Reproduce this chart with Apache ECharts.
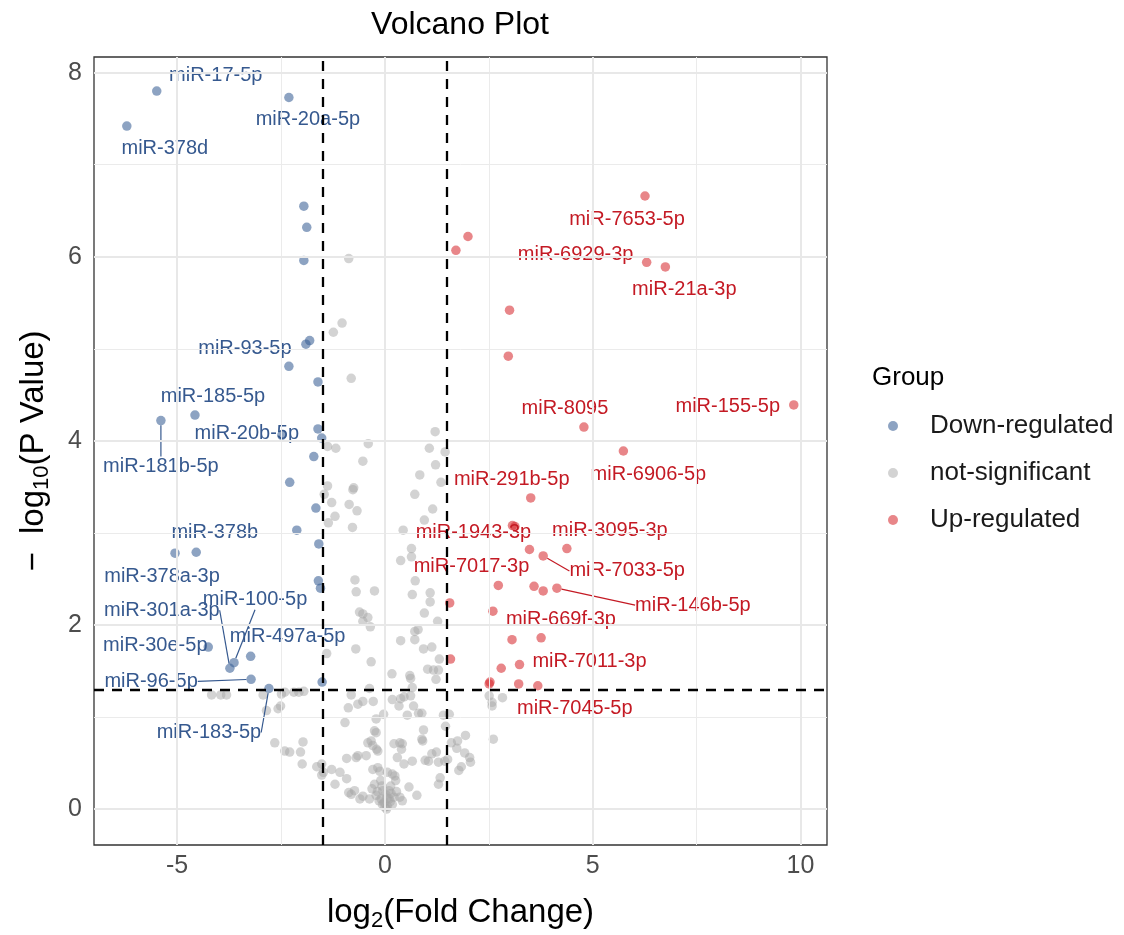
<!DOCTYPE html>
<html>
<head>
<meta charset="utf-8">
<title>Volcano Plot</title>
<script src="https://cdn.jsdelivr.net/npm/echarts@6/dist/echarts.min.js"></script>
<style>
  html, body { margin: 0; background: #fff; }
  #chart { width: 1124px; height: 935px; }
</style>
</head>
<body>
<div id="chart"></div>
<script>
// categories / ticks
const groups = ['Down-regulated', 'not-significant', 'Up-regulated'];
const xTicks = [-5, 0, 5, 10];
const xMinorTicks = [-2.5, 2.5, 7.5];
const yTicks = [0, 2, 4, 6, 8];
const yMinorTicks = [1, 3, 5, 7];
const fcCut = [-1.5, 1.5];
const pCut = 1.30103; // -log10(0.05)

// [log2FC, -log10(p), label]
const downPoints = [
  [-5.49, 7.80, 'miR-17-5p'], [-6.21, 7.42, 'miR-378d'], [-2.31, 7.73, 'miR-20a-5p'],
  [-1.95, 6.55, ''], [-1.88, 6.32, ''], [-1.95, 5.96, ''],
  [-1.90, 5.05, 'miR-93-5p'], [-1.81, 5.09, ''], [-2.31, 4.81, ''], [-1.61, 4.64, ''],
  [-4.57, 4.28, 'miR-185-5p'], [-5.39, 4.22, 'miR-181b-5p'], [-2.48, 4.06, 'miR-20b-5p'],
  [-1.61, 4.13, ''], [-1.52, 4.03, ''], [-1.71, 3.83, ''], [-2.29, 3.55, ''], [-1.66, 3.27, ''],
  [-2.12, 3.03, 'miR-378b'], [-1.59, 2.88, ''], [-5.05, 2.78, 'miR-378a-3p'], [-4.54, 2.79, ''],
  [-1.60, 2.48, ''], [-1.55, 2.40, ''],
  [-4.25, 1.76, 'miR-30e-5p'], [-3.73, 1.53, 'miR-301a-3p'], [-3.63, 1.59, 'miR-100-5p'],
  [-3.23, 1.66, 'miR-497a-5p'], [-3.22, 1.41, 'miR-96-5p'], [-2.79, 1.31, 'miR-183-5p'],
  [-1.51, 1.38, '']
];

const upPoints = [
  [1.71, 6.07, ''], [2.00, 6.22, ''],
  [6.26, 6.66, 'miR-7653-5p'], [6.30, 5.94, 'miR-6929-3p'], [6.75, 5.89, 'miR-21a-3p'],
  [3.00, 5.42, ''], [2.97, 4.92, ''],
  [4.79, 4.15, 'miR-8095'], [9.84, 4.39, 'miR-155-5p'], [5.74, 3.89, 'miR-6906-5p'],
  [3.51, 3.38, 'miR-291b-5p'], [3.07, 3.08, 'miR-1943-3p'], [3.13, 3.07, ''],
  [3.48, 2.82, 'miR-7017-3p'], [4.38, 2.83, 'miR-3095-3p'], [3.81, 2.75, 'miR-7033-5p'],
  [2.73, 2.43, ''], [3.59, 2.42, ''], [3.81, 2.37, ''], [4.14, 2.40, 'miR-146b-5p'],
  [1.56, 2.24, ''], [2.60, 2.15, 'miR-669f-3p'], [3.06, 1.84, ''], [3.76, 1.86, ''],
  [1.58, 1.63, ''], [2.80, 1.53, ''], [3.24, 1.57, 'miR-7011-3p'],
  [2.51, 1.36, ''], [2.53, 1.38, ''], [3.22, 1.36, ''], [3.68, 1.34, 'miR-7045-5p']
];

const nsPoints = [
  [-0.87,5.98],[-1.03,5.28],[-1.24,5.18],[-0.81,4.68],[1.21,4.10],[-0.40,3.97],[1.07,3.92],[-1.38,3.94],[-1.18,3.92],[1.45,3.88],
  [-0.53,3.78],[1.22,3.74],[0.84,3.63],[1.35,3.55],[-1.38,3.51],[-0.77,3.47],[-0.75,3.49],[0.72,3.42],[-1.46,3.42],[-1.28,3.33],
  [-0.86,3.31],[-0.67,3.24],[1.15,3.26],[-1.20,3.18],[0.95,3.14],[-1.36,3.11],[-0.78,3.06],[0.44,3.03],[0.64,2.83],[0.64,2.74],
  [0.38,2.70],[-0.72,2.49],[0.73,2.48],[-0.69,2.36],[-0.25,2.37],[0.66,2.33],[1.09,2.35],[1.09,2.25],[-0.61,2.14],[-0.53,2.12],
  [-0.41,2.08],[-0.53,2.04],[0.95,2.13],[1.27,2.04],[-0.35,1.98],[0.80,1.95],[0.72,1.93],[0.38,1.83],[0.72,1.84],[0.93,1.74],
  [1.13,1.76],[-0.70,1.74],[-1.40,1.69],[1.31,1.63],[-0.33,1.60],[1.03,1.52],[1.17,1.51],[1.29,1.51],[0.17,1.47],[0.60,1.45],
  [0.62,1.42],[1.23,1.41],[-0.37,1.31],[0.66,1.32],
  [-4.17,1.24],[-3.95,1.24],[-3.81,1.24],[-2.93,1.24],[-2.49,1.25],[-2.41,1.27],[-2.19,1.27],[-2.07,1.27],[-1.95,1.28],
  [-2.85,1.07],[-2.57,1.09],[-2.51,1.12],[-2.65,0.72],[-2.41,0.63],[-2.29,0.62],[-2.03,0.62],[-1.97,0.73],
  [-1.52,0.49],[-1.28,0.43],[-1.08,0.40],[-0.92,0.33],[-1.48,0.40],[-0.96,0.94],[-0.88,1.10],[-0.65,1.14],[-0.65,0.58],[-0.45,0.58],
  [-0.81,1.24],[-0.53,1.17],[-0.28,1.17],[0.18,1.19],[0.38,1.20],[0.46,1.22],[0.62,1.23],[0.34,1.12],[0.69,1.12],[0.54,1.02],
  [0.81,1.04],[0.89,1.04],[1.41,1.02],[-0.03,1.03],[-0.21,0.98],[-0.25,0.85],[-0.21,0.83],[0.93,0.86],[0.89,0.76],[0.91,0.74],
  [1.46,0.90],[1.94,0.80],[2.61,0.76],[-0.41,0.72],[-0.33,0.74],[-0.29,0.69],[-0.20,0.65],[-0.17,0.63],[0.22,0.71],[0.36,0.72],
  [0.42,0.71],[0.40,0.65],[1.60,0.72],[1.75,0.74],[1.73,0.66],[1.92,0.61],[-0.92,0.55],[-0.69,0.56],[0.30,0.56],[0.46,0.49],
  [0.66,0.52],[0.97,0.53],[1.05,0.52],[1.13,0.60],[1.29,0.51],[1.51,0.54],[2.04,0.56],[2.06,0.51],[1.84,0.46],[1.78,0.42],
  [-1.99,0.49],[-1.64,0.46],[-1.52,0.37],[-1.20,0.27],[-0.29,0.43],[-0.17,0.45],[-0.12,0.41],[0.06,0.40],[0.18,0.38],[0.24,0.36],
  [1.33,0.34],[1.29,0.27],[-0.25,0.27],[-0.31,0.22],[-0.07,0.25],[0.14,0.25],[0.10,0.20],[0.58,0.24],[0.77,0.15],[0.42,0.09],
  [0.36,0.13],[-0.73,0.20],[-0.81,0.16],[-0.53,0.14],[-0.37,0.11],[-0.21,0.15],[-0.09,0.11],[-0.02,0.07],[0.06,0.03],[0.18,0.05],
  [0.10,0.11],[2.51,1.23],[2.58,1.16],[2.58,1.12],[2.83,1.21],[1.55,1.03],[1.24,0.62],[1.44,0.52],[-0.60,0.11],[-0.87,0.18],
  [0.00,0.02],[0.04,0.00],[-0.06,0.05],[0.13,0.08],[-0.14,0.09],[0.22,0.13],[-0.18,0.19],[0.28,0.19],[0.02,0.16],[-0.10,0.31],
  [0.26,0.31],[-0.05,0.20],[0.15,0.17],[0.05,0.12]
];

// label placement, pixel offset of the label centre from its point (repel layout)
const labelOffset = {
  'miR-17-5p': [59, -16], 'miR-378d': [38, 22], 'miR-20a-5p': [19, 22], 'miR-93-5p': [-61, 4],
  'miR-185-5p': [18, -19], 'miR-181b-5p': [0, 46], 'miR-20b-5p': [-35, -2], 'miR-378b': [-82, 2],
  'miR-378a-3p': [-13, 23], 'miR-30e-5p': [-53, -2], 'miR-301a-3p': [-68, -58], 'miR-100-5p': [21, -63],
  'miR-497a-5p': [37, -20], 'miR-96-5p': [-100, 2], 'miR-183-5p': [-60, 44],
  'miR-7653-5p': [-18, 23], 'miR-6929-3p': [-71, -8], 'miR-21a-3p': [19, 23], 'miR-8095': [-19, -19],
  'miR-155-5p': [-66, 2], 'miR-6906-5p': [25, 23], 'miR-291b-5p': [-19, -18], 'miR-1943-3p': [-39, 7],
  'miR-3095-3p': [43, -18], 'miR-7017-3p': [-58, 17], 'miR-7033-5p': [84, 15], 'miR-146b-5p': [136, 17],
  'miR-669f-3p': [68, 8], 'miR-7011-3p': [70, -3], 'miR-7045-5p': [37, 23]
};
const labelLines = ['miR-181b-5p', 'miR-301a-3p', 'miR-100-5p', 'miR-96-5p', 'miR-183-5p', 'miR-7033-5p', 'miR-146b-5p'];

const blue = '#36598f';
const red = '#c41a24';
const blueFill = 'rgba(58, 95, 149, 0.72)';
const greyFill = 'rgba(165, 165, 165, 0.62)';
const redFill = 'rgba(214, 40, 45, 0.7)';
const font = 'Liberation Sans';

function toItems(points) {
  return points.map(p => ({
    value: [p[0], p[1]],
    name: p[2] || '',
    label: { show: !!p[2] },
    labelLine: { show: labelLines.indexOf(p[2]) >= 0 }
  }));
}

function pointSeries(name, points, fill, textColor, z) {
  return {
    name: name,
    type: 'scatter',
    z: z,
    symbolSize: 9.5,
    itemStyle: { color: fill },
    label: {
      show: false,
      position: 'inside',
      formatter: '{b}',
      color: textColor,
      textBorderWidth: 0,
      textBorderColor: 'transparent',
      opacity: 1,
      fontSize: 20,
      fontFamily: font
    },
    labelLine: { show: false, lineStyle: { color: textColor, width: 1.2 } },
    labelLayout: function (params) {
      const off = labelOffset[params.text];
      if (!off) return {};
      return { dx: off[0], dy: off[1] };
    },
    emphasis: { disabled: true },
    data: toItems(points)
  };
}

const chart = echarts.init(document.getElementById('chart'));

const option = {
  animation: false,
  backgroundColor: '#fff',
  title: {
    text: 'Volcano Plot',
    left: 455,
    textAlign: 'center',
    top: 4,
    textStyle: { fontSize: 32, fontWeight: 'normal', color: '#000', fontFamily: font }
  },
  graphic: [{
    type: 'text',
    left: 872,
    top: 365,
    style: { text: 'Group', fontSize: 26, fill: '#000', fontFamily: font }
  }],
  legend: {
    data: groups,
    orient: 'vertical',
    left: 888,
    top: 413,
    padding: 0,
    itemWidth: 64,
    itemHeight: 10,
    itemGap: 21,
    icon: 'circle',
    textStyle: { fontSize: 26, color: '#1a1a1a', fontFamily: font, lineHeight: 26 }
  },
  grid: {
    left: 94,
    right: 297,
    top: 57,
    bottom: 90,
    outerBoundsMode: 'none',
    show: true,
    borderColor: '#333',
    borderWidth: 1.3,
    backgroundColor: 'transparent'
  },
  xAxis: {
    type: 'value',
    min: -7.0,
    max: 10.64,
    name: 'log{s|2}(Fold Change)',
    nameLocation: 'middle',
    nameGap: 49,
    nameTextStyle: {
      fontSize: 33, color: '#000', fontFamily: font, lineHeight: 38,
      rich: { s: { fontSize: 22, lineHeight: 22, verticalAlign: 'bottom', fontFamily: font, color: '#000' } }
    },
    axisLine: { show: false },
    axisTick: { show: true, length: 5, customValues: xTicks, lineStyle: { color: '#333' } },
    axisLabel: { customValues: xTicks, fontSize: 25, color: '#4d4d4d', fontFamily: font, margin: 9 },
    splitLine: { show: false }
  },
  yAxis: {
    type: 'value',
    min: -0.39,
    max: 8.17,
    name: '−  log{s|10}(P Value)',
    nameLocation: 'middle',
    nameRotate: 90,
    nameGap: 41,
    nameTextStyle: {
      fontSize: 33, color: '#000', fontFamily: font, lineHeight: 38,
      rich: { s: { fontSize: 22, lineHeight: 22, verticalAlign: 'bottom', fontFamily: font, color: '#000' } }
    },
    axisLine: { show: false },
    axisTick: { show: true, length: 5, customValues: yTicks, lineStyle: { color: '#333' } },
    axisLabel: { customValues: yTicks, fontSize: 25, color: '#4d4d4d', fontFamily: font, margin: 12 },
    splitLine: { show: false }
  },
  series: [
    // panel grid lines
    {
      type: 'scatter', name: 'grid-minor', z: 0, silent: true, data: [],
      markLine: {
        silent: true, symbol: ['none', 'none'], label: { show: false }, animation: false,
        lineStyle: { color: '#ebebeb', type: 'solid', width: 1 },
        emphasis: { disabled: true },
        data: xMinorTicks.map(v => ({ xAxis: v })).concat(yMinorTicks.map(v => ({ yAxis: v })))
      }
    },
    {
      type: 'scatter', name: 'grid-major', z: 1, silent: true, data: [],
      markLine: {
        silent: true, symbol: ['none', 'none'], label: { show: false }, animation: false,
        lineStyle: { color: '#e8e8e8', type: 'solid', width: 2 },
        emphasis: { disabled: true },
        data: xTicks.map(v => ({ xAxis: v })).concat(yTicks.map(v => ({ yAxis: v })))
      }
    },
    pointSeries('not-significant', nsPoints, greyFill, '#999', 2),
    pointSeries('Down-regulated', downPoints, blueFill, blue, 3),
    pointSeries('Up-regulated', upPoints, redFill, red, 3),
    // thresholds
    {
      type: 'scatter', name: 'cutoff', z: 10, silent: true, data: [],
      markLine: {
        silent: true, symbol: ['none', 'none'], label: { show: false }, animation: false,
        lineStyle: { color: '#000', type: [10, 8], width: 2.3 },
        emphasis: { disabled: true },
        data: fcCut.map(v => ({ xAxis: v })).concat([{ yAxis: pCut }])
      }
    }
  ]
};

chart.setOption(option);
</script>
</body>
</html>
